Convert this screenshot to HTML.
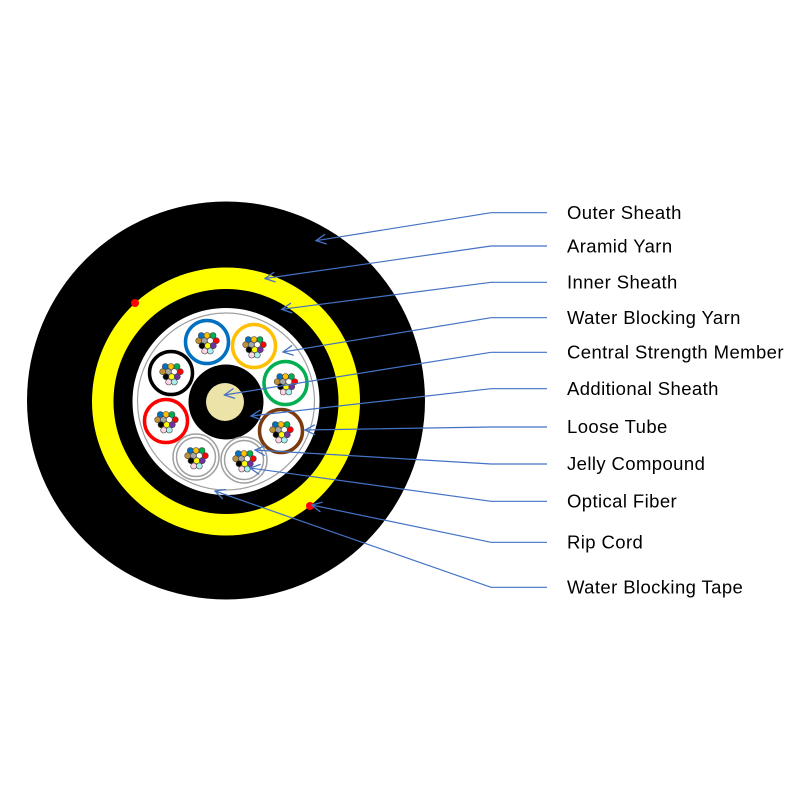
<!DOCTYPE html>
<html><head><meta charset="utf-8"><style>
html,body{margin:0;padding:0;background:#fff;width:800px;height:800px;overflow:hidden}
svg{display:block}
text{font-family:"Liberation Sans",sans-serif;font-size:18.5px;letter-spacing:0.4px;fill:#000}
</style></head><body>
<svg width="800" height="800" viewBox="0 0 800 800" xmlns="http://www.w3.org/2000/svg">
<defs>
<g id="fib" stroke="#444" stroke-width="0.6">
<circle cx="-5.7" cy="-6.5" r="3" fill="#0070c0"/>
<circle cx="0" cy="-6.5" r="3" fill="#ffc000"/>
<circle cx="6" cy="-6.5" r="3" fill="#00b050"/>
<circle cx="-8.3" cy="-1.3" r="3" fill="#c09030"/>
<circle cx="-2.7" cy="-1.3" r="3" fill="#a6a6a6"/>
<circle cx="3.3" cy="-1.3" r="3" fill="#ffffff"/>
<circle cx="9.3" cy="-1.3" r="3" fill="#ff0000"/>
<circle cx="-5" cy="3.7" r="3" fill="#000"/>
<circle cx="0.7" cy="3.7" r="3" fill="#ffff00"/>
<circle cx="6.3" cy="3.7" r="3" fill="#7030a0"/>
<circle cx="-2.3" cy="9" r="3" fill="#ffd5e5"/>
<circle cx="3.3" cy="9" r="3" fill="#a8f0f0"/>
</g>
<marker id="ah" viewBox="0 0 12 12" refX="1" refY="6" markerWidth="12" markerHeight="12" markerUnits="userSpaceOnUse" orient="auto">
<path d="M11,1 L1,6 L11,11" fill="none" stroke="#4472c4" stroke-width="1.3"/>
</marker>
</defs>
<circle cx="226" cy="400.5" r="199" fill="#000"/>
<circle cx="226" cy="401.5" r="134" fill="#ffff00"/>
<circle cx="226" cy="401.5" r="112.5" fill="#000"/>
<circle cx="226" cy="401.5" r="93.5" fill="#fff"/>
<circle cx="226" cy="401.5" r="88.5" fill="none" stroke="#a0a0a0" stroke-width="1.2"/>
<circle cx="226" cy="402" r="37.5" fill="#000"/>
<circle cx="225" cy="402" r="19" fill="#ebe3a8"/>
<g fill="#fff" stroke-width="3.5">
<circle cx="207" cy="342" r="21.5" stroke="#0070c0"/>
<circle cx="254" cy="346" r="21.5" stroke="#ffc000"/>
<circle cx="285.5" cy="383" r="21.5" stroke="#00b050"/>
<circle cx="281" cy="431" r="21.5" stroke="#7a3b10"/>
<circle cx="166" cy="421" r="21.5" stroke="#ff0000"/>
<circle cx="171" cy="373" r="21.5" stroke="#000"/>
</g>
<g fill="#fff" stroke="#a0a0a0" stroke-width="1.5">
<circle cx="244" cy="460" r="23"/><circle cx="244" cy="460" r="19.5"/>
<circle cx="196" cy="457" r="23"/><circle cx="196" cy="457" r="19.5"/>
</g>
<use href="#fib" x="207" y="342"/>
<use href="#fib" x="254" y="346"/>
<use href="#fib" x="285.5" y="383"/>
<use href="#fib" x="281" y="431"/>
<use href="#fib" x="166" y="421"/>
<use href="#fib" x="171" y="373"/>
<use href="#fib" x="244" y="460"/>
<use href="#fib" x="196" y="457"/>
<circle cx="135" cy="303" r="4" fill="#ff0000"/>
<circle cx="310" cy="506" r="4" fill="#ff0000"/>
<g fill="none" stroke="#4472c4" stroke-width="1.2" marker-start="url(#ah)">
<polyline points="316,240.7 491,212.7 547,212.7"/>
<polyline points="265,278.5 491,246 547,246"/>
<polyline points="281.7,309.3 491,282.3 547,282.3"/>
<polyline points="283,352 491,317.7 547,317.7"/>
<polyline points="224.3,395 491,352.3 547,352.3"/>
<polyline points="251,416 491,388.7 547,388.7"/>
<polyline points="305,430 491,427 547,427"/>
<polyline points="255,450 491,464 547,464"/>
<polyline points="250,468 491,501.3 547,501.3"/>
<polyline points="311.7,505 491,542.3 547,542.3"/>
<polyline points="215,491 491,587.3 547,587.3"/>
</g>
<text x="567" y="219">Outer Sheath</text>
<text x="567" y="252.5">Aramid Yarn</text>
<text x="567" y="288.5">Inner Sheath</text>
<text x="567" y="324">Water Blocking Yarn</text>
<text x="567" y="358.5">Central Strength Member</text>
<text x="567" y="395">Additional Sheath</text>
<text x="567" y="433">Loose Tube</text>
<text x="567" y="470">Jelly Compound</text>
<text x="567" y="507.5">Optical Fiber</text>
<text x="567" y="548.5">Rip Cord</text>
<text x="567" y="593.5">Water Blocking Tape</text>
</svg>
</body></html>
